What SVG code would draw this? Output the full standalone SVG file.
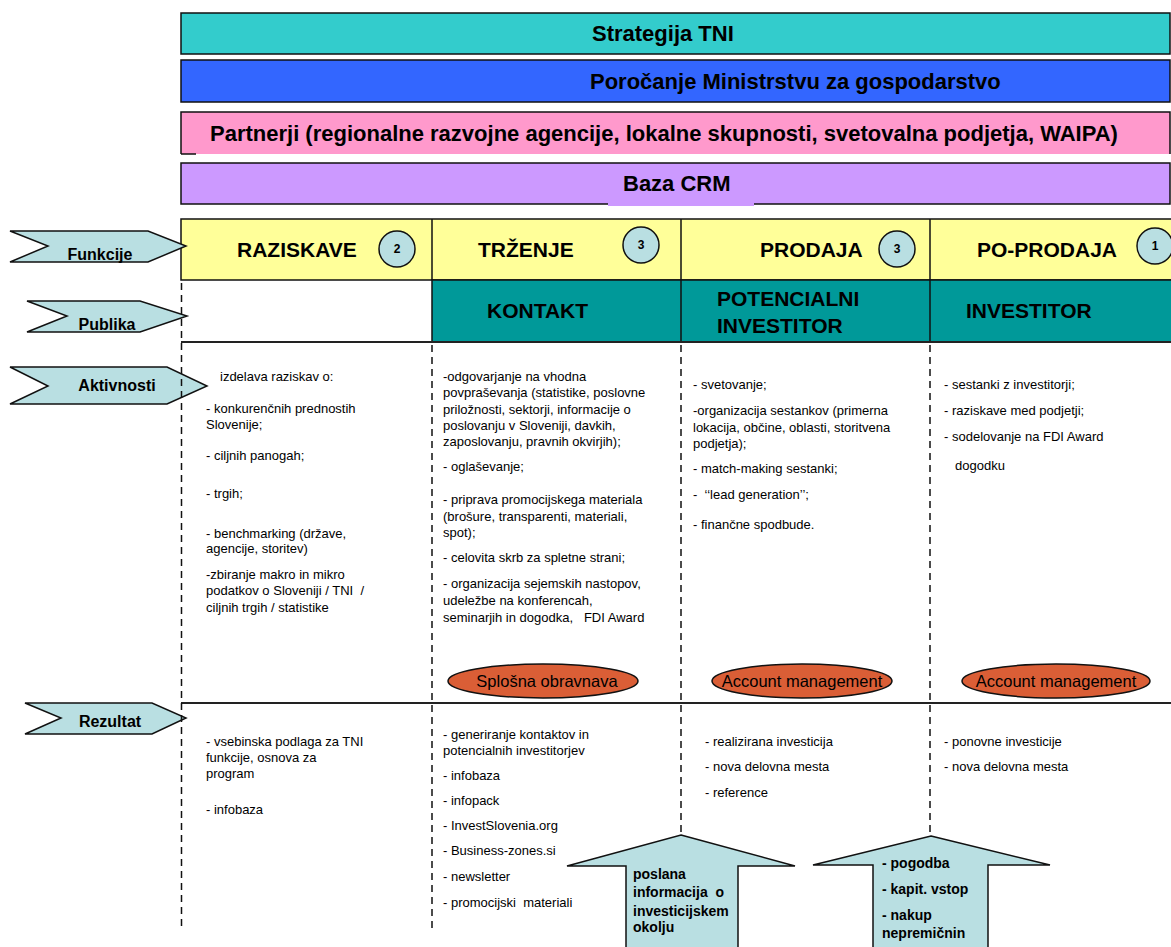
<svg xmlns="http://www.w3.org/2000/svg" width="1171" height="947" viewBox="0 0 1171 947">
  <style>
    .bar { stroke: #111; stroke-width: 1.5; }
    .hdr { font-family: "Liberation Sans", Arial, sans-serif; font-weight: bold; font-size: 22px; fill: #000; }
    .col { font-family: "Liberation Sans", Arial, sans-serif; font-weight: bold; font-size: 21px; fill: #000; }
    .lab { font-family: "Liberation Sans", Arial, sans-serif; font-weight: bold; font-size: 16px; fill: #000; text-anchor: middle; }
    .num { font-family: "Liberation Sans", Arial, sans-serif; font-weight: bold; font-size: 12px; fill: #000; text-anchor: middle; }
    .t { font-family: "Liberation Sans", Arial, sans-serif; font-size: 13px; fill: #000; white-space: pre; }
    .tb { font-family: "Liberation Sans", Arial, sans-serif; font-size: 14px; font-weight: bold; fill: #000; white-space: pre; }
    .ell { font-family: "Liberation Sans", Arial, sans-serif; font-size: 16.5px; fill: #000; text-anchor: middle; }
    .chev { fill: #B9DFE2; stroke: #111; stroke-width: 1.5; }
    .circ { fill: #B9DFE2; stroke: #111; stroke-width: 1.5; }
    .oval { fill: #DA5E36; stroke: #111; stroke-width: 1.5; }
    .dash { stroke: #111; stroke-width: 1.5; stroke-dasharray: 7 5; fill: none; }
    .solid { stroke: #222; stroke-width: 2; fill: none; }
    .cell { stroke: #111; stroke-width: 1.5; }
  </style>

  <!-- horizontal context bars -->
  <g id="bar-strategija">
    <rect class="bar" x="181" y="13" width="989" height="41" fill="#33CCCC"/>
    <text class="hdr" x="592" y="41">Strategija TNI</text>
  </g>
  <g id="bar-porocanje">
    <rect class="bar" x="181" y="60" width="989" height="42" fill="#3366FF"/>
    <text class="hdr" x="590" y="89">Poročanje Ministrstvu za gospodarstvo</text>
  </g>
  <g id="bar-partnerji">
    <rect x="181" y="112" width="989" height="42" fill="#FF99CC"/>
    <path d="M181,154 V112 H1170 V154" class="bar" fill="none"/>
    <path d="M181,154 H196" class="bar" fill="none"/>
    <text class="hdr" x="210" y="141">Partnerji (regionalne razvojne agencije, lokalne skupnosti, svetovalna podjetja, WAIPA)</text>
  </g>
  <g id="bar-crm">
    <rect class="bar" x="181" y="163" width="989" height="41" fill="#CC99FF"/>
    <rect x="608" y="198" width="146" height="8" fill="#CC99FF"/>
    <text class="hdr" x="623" y="191">Baza CRM</text>
  </g>

  <!-- functions row -->
  <g id="row-funkcije">
    <rect class="cell" x="181" y="219" width="1000" height="61" fill="#FFFF99"/>
    <line class="cell" x1="432" y1="219" x2="432" y2="280"/>
    <line class="cell" x1="681" y1="219" x2="681" y2="280"/>
    <line class="cell" x1="930" y1="219" x2="930" y2="280"/>
  </g>
  <g id="fn-raziskave">
    <text class="col" x="237" y="257">RAZISKAVE</text>
    <circle class="circ" cx="397" cy="249" r="18"/>
    <text class="num" x="397" y="253">2</text>
  </g>
  <g id="fn-trzenje">
    <text class="col" x="478" y="257">TRŽENJE</text>
    <circle class="circ" cx="641" cy="245" r="18"/>
    <text class="num" x="641" y="249">3</text>
  </g>
  <g id="fn-prodaja">
    <text class="col" x="760" y="257">PRODAJA</text>
    <circle class="circ" cx="897" cy="249" r="18"/>
    <text class="num" x="897" y="253">3</text>
  </g>
  <g id="fn-poprodaja">
    <text class="col" x="977" y="257">PO-PRODAJA</text>
    <circle class="circ" cx="1155" cy="246" r="18"/>
    <text class="num" x="1155" y="250">1</text>
  </g>

  <!-- audience row -->
  <g id="row-publika">
    <rect class="cell" x="432" y="280" width="749" height="62" fill="#009999"/>
    <line class="cell" x1="681" y1="280" x2="681" y2="342"/>
    <line class="cell" x1="930" y1="280" x2="930" y2="342"/>
    <text class="col" x="487" y="318">KONTAKT</text>
    <text class="col" x="717" y="306">POTENCIALNI</text>
    <text class="col" x="717" y="333">INVESTITOR</text>
    <text class="col" x="966" y="318">INVESTITOR</text>
  </g>

  <!-- row labels -->
  <g id="lbl-funkcije">
    <polygon class="chev" points="10,231 148,231 186,246 148,262 10,262 48,246"/>
    <text class="lab" x="100" y="260">Funkcije</text>
  </g>
  <g id="lbl-publika">
    <polygon class="chev" points="27,301 140,301 187,316 140,332 27,332 67,316"/>
    <text class="lab" x="107" y="330">Publika</text>
  </g>
  <g id="lbl-aktivnosti">
    <polygon class="chev" points="10,367 167,367 207,386 167,404 10,404 48,386"/>
    <text class="lab" x="117" y="391">Aktivnosti</text>
  </g>
  <g id="lbl-rezultat">
    <polygon class="chev" points="25,703 152,703 186,718 152,734 25,734 61,718"/>
    <text class="lab" x="110" y="727">Rezultat</text>
  </g>

  <!-- grid lines -->
  <g id="connectors">
    <line class="solid" x1="181" y1="342" x2="1171" y2="342"/>
    <line class="solid" x1="181" y1="703" x2="1171" y2="703"/>
    <line class="dash" x1="181.5" y1="283" x2="181.5" y2="930"/>
    <line class="dash" x1="432" y1="345" x2="432" y2="930"/>
    <line class="dash" x1="681" y1="345" x2="681" y2="835"/>
    <line class="dash" x1="930" y1="345" x2="930" y2="836"/>
  </g>

  <!-- activities -->
  <g id="akt-raziskave">
    <text class="t" x="220" y="381">izdelava raziskav o:</text>
    <text class="t" x="206" y="413">- konkurenčnih prednostih</text>
    <text class="t" x="206" y="429">Slovenije;</text>
    <text class="t" x="206" y="460">- ciljnih panogah;</text>
    <text class="t" x="206" y="498">- trgih;</text>
    <text class="t" x="206" y="538">- benchmarking (države,</text>
    <text class="t" x="206" y="553">agencije, storitev)</text>
    <text class="t" x="206" y="579">-zbiranje makro in mikro</text>
    <text class="t" x="206" y="595">podatkov o Sloveniji / TNI  /</text>
    <text class="t" x="206" y="612">ciljnih trgih / statistike</text>
  </g>
  <g id="akt-trzenje">
    <text class="t" x="443" y="381">-odgovarjanje na vhodna</text>
    <text class="t" x="443" y="397">povpraševanja (statistike, poslovne</text>
    <text class="t" x="443" y="414">priložnosti, sektorji, informacije o</text>
    <text class="t" x="443" y="430">poslovanju v Sloveniji, davkih,</text>
    <text class="t" x="443" y="446">zaposlovanju, pravnih okvirjih);</text>
    <text class="t" x="443" y="471">- oglaševanje;</text>
    <text class="t" x="443" y="504">- priprava promocijskega materiala</text>
    <text class="t" x="443" y="521">(brošure, transparenti, materiali,</text>
    <text class="t" x="443" y="537">spot);</text>
    <text class="t" x="443" y="562">- celovita skrb za spletne strani;</text>
    <text class="t" x="443" y="588">- organizacija sejemskih nastopov,</text>
    <text class="t" x="443" y="605">udeležbe na konferencah,</text>
    <text class="t" x="443" y="622">seminarjih in dogodka,   FDI Award</text>
  </g>
  <g id="akt-prodaja">
    <text class="t" x="693" y="389">- svetovanje;</text>
    <text class="t" x="693" y="415">-organizacija sestankov (primerna</text>
    <text class="t" x="693" y="432">lokacija, občine, oblasti, storitvena</text>
    <text class="t" x="693" y="448">podjetja);</text>
    <text class="t" x="693" y="473">- match-making sestanki;</text>
    <text class="t" x="693" y="499">-  ‘‘lead generation’’;</text>
    <text class="t" x="693" y="529">- finančne spodbude.</text>
  </g>
  <g id="akt-poprodaja">
    <text class="t" x="944" y="389">- sestanki z investitorji;</text>
    <text class="t" x="944" y="415">- raziskave med podjetji;</text>
    <text class="t" x="944" y="441">- sodelovanje na FDI Award</text>
    <text class="t" x="955" y="470">dogodku</text>
  </g>

  <!-- handling ovals -->
  <g id="oval-splosna">
    <ellipse class="oval" cx="543" cy="681" rx="95" ry="17"/>
    <text class="ell" x="547" y="687">Splošna obravnava</text>
  </g>
  <g id="oval-account-1">
    <ellipse class="oval" cx="802" cy="681" rx="90" ry="17"/>
    <text class="ell" x="802" y="687">Account management</text>
  </g>
  <g id="oval-account-2">
    <ellipse class="oval" cx="1056" cy="681" rx="94" ry="17"/>
    <text class="ell" x="1056" y="687">Account management</text>
  </g>

  <!-- results -->
  <g id="rez-raziskave">
    <text class="t" x="206" y="746">- vsebinska podlaga za TNI</text>
    <text class="t" x="206" y="762">funkcije, osnova za</text>
    <text class="t" x="206" y="778">program</text>
    <text class="t" x="206" y="814">- infobaza</text>
  </g>
  <g id="rez-trzenje">
    <text class="t" x="443" y="739">- generiranje kontaktov in</text>
    <text class="t" x="443" y="755">potencialnih investitorjev</text>
    <text class="t" x="443" y="780">- infobaza</text>
    <text class="t" x="443" y="805">- infopack</text>
    <text class="t" x="443" y="830">- InvestSlovenia.org</text>
    <text class="t" x="443" y="855">- Business-zones.si</text>
    <text class="t" x="443" y="881">- newsletter</text>
    <text class="t" x="443" y="907">- promocijski  materiali</text>
  </g>
  <g id="rez-prodaja">
    <text class="t" x="705" y="746">- realizirana investicija</text>
    <text class="t" x="705" y="771">- nova delovna mesta</text>
    <text class="t" x="705" y="797">- reference</text>
  </g>
  <g id="rez-poprodaja">
    <text class="t" x="944" y="746">- ponovne investicije</text>
    <text class="t" x="944" y="771">- nova delovna mesta</text>
  </g>

  <!-- upward block arrows -->
  <g id="arrow-informacija">
    <polygon class="chev" points="681,835 795,866 738,866 738,950 626,950 626,866 567,866"/>
    <text class="tb" x="633" y="879">poslana</text>
    <text class="tb" x="633" y="897">informacija  o</text>
    <text class="tb" x="633" y="916">investicijskem</text>
    <text class="tb" x="633" y="932">okolju</text>
  </g>
  <g id="arrow-pogodba">
    <polygon class="chev" points="931,836 1050,865 988,865 988,950 873,950 873,865 813,865"/>
    <text class="tb" x="882" y="868">- pogodba</text>
    <text class="tb" x="882" y="894">- kapit. vstop</text>
    <text class="tb" x="882" y="920">- nakup</text>
    <text class="tb" x="882" y="938">nepremičnin</text>
  </g>
</svg>
